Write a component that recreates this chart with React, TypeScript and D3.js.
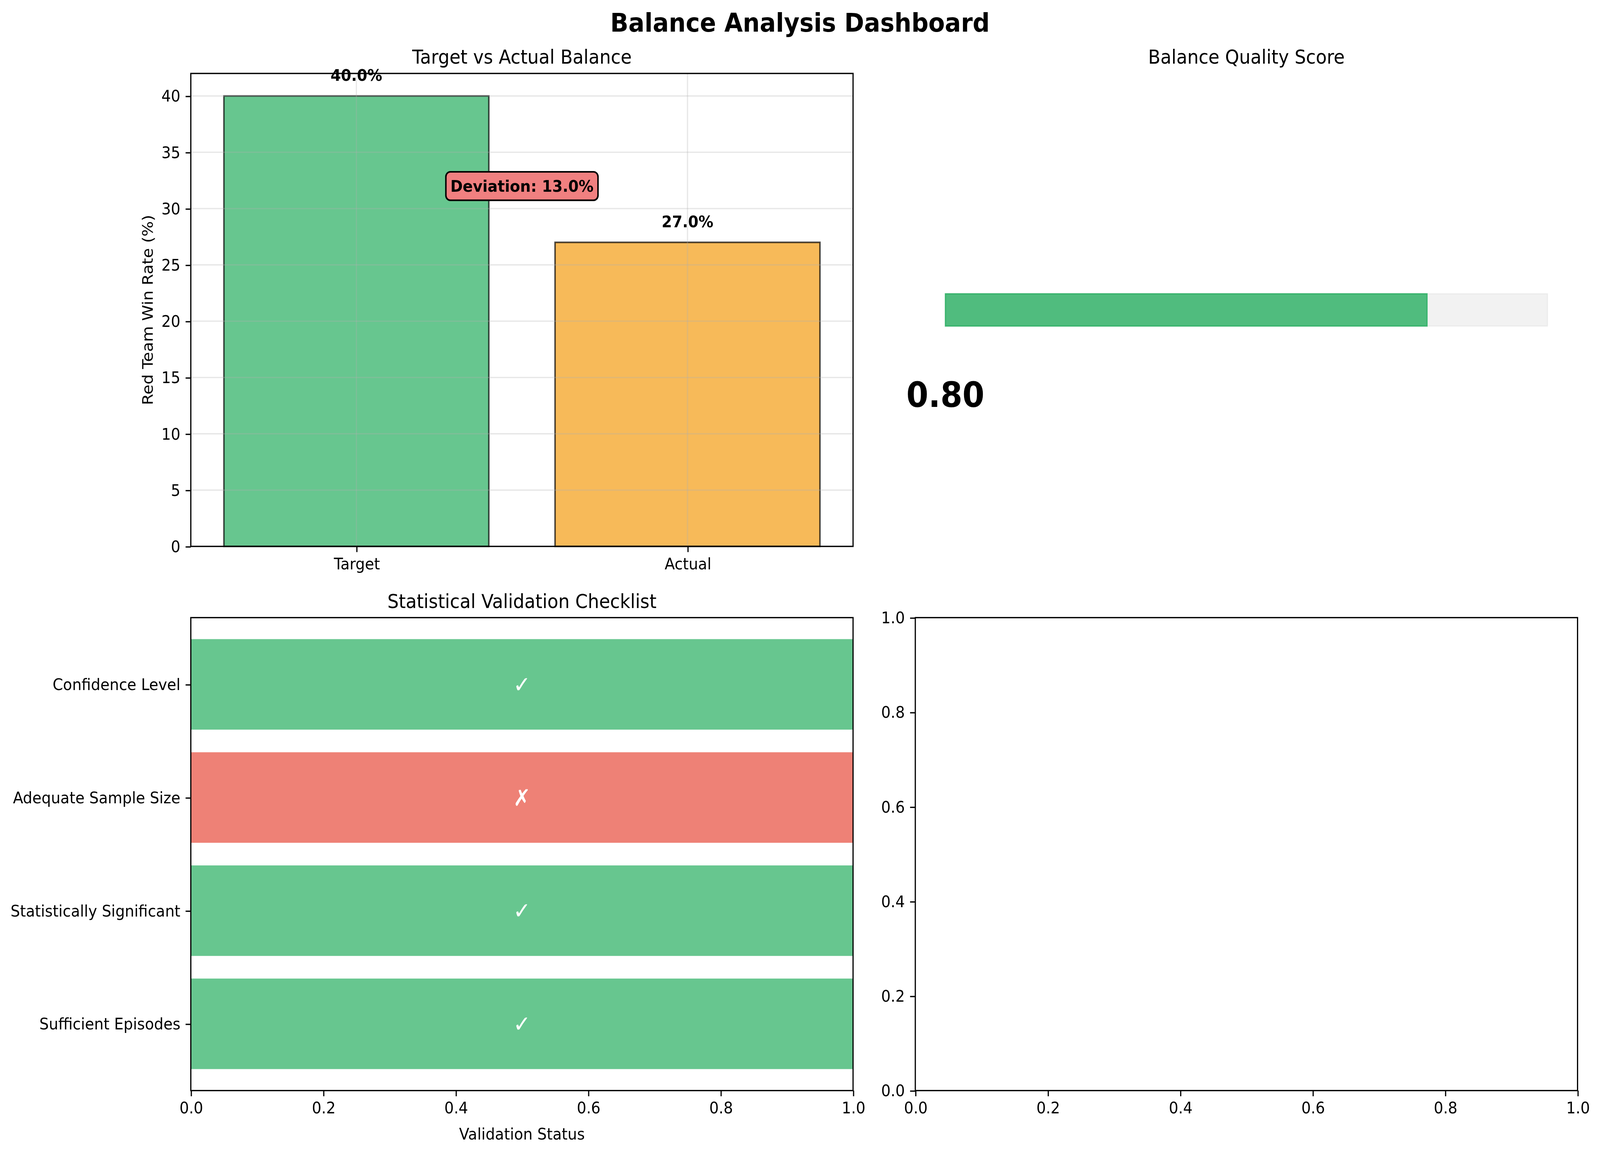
import React, { useRef, useEffect } from "react";
import * as d3 from "d3";

// chart data
const balanceLabels = ["Target", "Actual"];
const balanceValues = [40.0, 27.0];
const balanceColors = ["#27ae60", "#f39c12"];
const deviation = 13.0;
const deviationAt = 32;

const qualityScore = 0.8;

const checkNames = [
  "Sufficient Episodes",
  "Statistically Significant",
  "Adequate Sample Size",
  "Confidence Level",
];
const checkPassed = [true, true, false, true];

const balanceTicks = [0, 5, 10, 15, 20, 25, 30, 35, 40];
const unitTicks = [0, 0.2, 0.4, 0.6, 0.8, 1.0];

// layout (drawn in a 1568 x 1037 viewBox, stretched over the page)
const W = 1568;
const H = 1037;
const FONT = "'DejaVu Sans', sans-serif";
const PT = 1.46;
const FS = 10 * PT;
const TITLE_FS = 12 * PT;
const LW = 0.8 * PT;
const TICK = 3.5 * PT;

const boxTL = { x0: 187, x1: 836, y0: 66, y1: 491 };
const boxTR = { x0: 897, x1: 1546, y0: 66, y1: 491 };
const boxBL = { x0: 187, x1: 836, y0: 555, y1: 980 };
const boxBR = { x0: 897, x1: 1546, y0: 555, y1: 980 };

type Box = typeof boxTL;
type G = d3.Selection<SVGGElement, unknown, null, undefined>;

function frame(g: G, b: Box) {
  g.append("rect")
    .attr("x", b.x0)
    .attr("y", b.y0)
    .attr("width", b.x1 - b.x0)
    .attr("height", b.y1 - b.y0)
    .attr("fill", "none")
    .attr("stroke", "#000")
    .attr("stroke-width", LW);
}

function title(g: G, b: Box, text: string) {
  g.append("text")
    .attr("x", (b.x0 + b.x1) / 2)
    .attr("y", b.y0 - 6 * PT)
    .attr("text-anchor", "middle")
    .attr("font-size", TITLE_FS)
    .text(text);
}

function styleAxis(sel: G) {
  sel.attr("font-family", FONT).attr("font-size", FS);
  sel.select(".domain").remove();
  sel.selectAll(".tick line").attr("stroke", "#000").attr("stroke-width", LW);
  sel.selectAll(".tick text").attr("fill", "#000");
}

const App: React.FC = () => {
  const svgRef = useRef<SVGSVGElement>(null);

  useEffect(() => {
    document.body.style.margin = "0";
    document.documentElement.style.overflow = "hidden";
    if (!svgRef.current) return;
    const svg = d3.select(svgRef.current);
    svg.selectAll("*").remove();

    const root = svg
      .append("g")
      .attr("font-family", FONT)
      .attr("fill", "#000") as unknown as G;

    root
      .append("rect")
      .attr("width", W)
      .attr("height", H)
      .attr("fill", "#fff");

    // Suptitle
    root
      .append("text")
      .attr("x", W / 2)
      .attr("y", 28.5)
      .attr("text-anchor", "middle")
      .attr("font-size", 16 * PT)
      .attr("font-weight", "bold")
      .text("Balance Analysis Dashboard");

    // ---- Target vs Actual ----
    {
      const b = boxTL;
      const g = root.append("g") as G;
      const x = d3.scaleLinear().domain([-0.5, 1.5]).range([b.x0, b.x1]);
      const y = d3.scaleLinear().domain([0, 42]).range([b.y1, b.y0]);

      g.selectAll("rect.bar")
        .data(balanceValues)
        .join("rect")
        .attr("class", "bar")
        .attr("x", (_, i) => x(i - 0.4))
        .attr("width", x(0.8) - x(0))
        .attr("y", (d) => y(d))
        .attr("height", (d) => y(0) - y(d))
        .attr("fill", (_, i) => balanceColors[i])
        .attr("fill-opacity", 0.7)
        .attr("stroke", "#000")
        .attr("stroke-opacity", 0.7)
        .attr("stroke-width", PT);

      // grid
      g.selectAll("line.hgrid")
        .data(balanceTicks)
        .join("line")
        .attr("x1", b.x0)
        .attr("x2", b.x1)
        .attr("y1", (d) => y(d))
        .attr("y2", (d) => y(d))
        .attr("stroke", "#b0b0b0")
        .attr("stroke-opacity", 0.3)
        .attr("stroke-width", LW);
      g.selectAll("line.vgrid")
        .data(balanceLabels)
        .join("line")
        .attr("x1", (_, i) => x(i))
        .attr("x2", (_, i) => x(i))
        .attr("y1", b.y0)
        .attr("y2", b.y1)
        .attr("stroke", "#b0b0b0")
        .attr("stroke-opacity", 0.3)
        .attr("stroke-width", LW);

      const xa = g
        .append("g")
        .attr("transform", `translate(0,${b.y1})`)
        .call(
          d3
            .axisBottom(x)
            .tickValues([0, 1])
            .tickFormat((d) => balanceLabels[+d])
            .tickSize(TICK)
            .tickPadding(TICK),
        ) as unknown as G;
      styleAxis(xa);
      const ya = g
        .append("g")
        .attr("transform", `translate(${b.x0},0)`)
        .call(
          d3
            .axisLeft(y)
            .tickValues(balanceTicks)
            .tickFormat(d3.format("d"))
            .tickSize(TICK)
            .tickPadding(TICK),
        ) as unknown as G;
      styleAxis(ya);

      frame(g, b);
      title(g, b, "Target vs Actual Balance");

      g.append("text")
        .attr("transform", `translate(149.5,${(b.y0 + b.y1) / 2}) rotate(-90)`)
        .attr("text-anchor", "middle")
        .attr("font-size", FS)
        .text("Red Team Win Rate (%)");

      g.selectAll("text.val")
        .data(balanceValues)
        .join("text")
        .attr("class", "val")
        .attr("x", (_, i) => x(i))
        .attr("y", (d) => y(d + 1) - 0.236 * FS)
        .attr("text-anchor", "middle")
        .attr("font-size", FS)
        .attr("font-weight", "bold")
        .text((d) => `${d.toFixed(1)}%`);

      // deviation annotation
      const ann = g.append("g");
      const rect = ann.append("rect");
      const t = ann
        .append("text")
        .attr("x", x(0.5))
        .attr("y", y(deviationAt))
        .attr("dominant-baseline", "central")
        .attr("text-anchor", "middle")
        .attr("font-size", FS)
        .attr("font-weight", "bold")
        .text(`Deviation: ${deviation.toFixed(1)}%`);
      const bb = (t.node() as SVGTextElement).getBBox();
      const pad = 0.3 * FS;
      rect
        .attr("x", bb.x - pad)
        .attr("y", bb.y - pad)
        .attr("width", bb.width + 2 * pad)
        .attr("height", bb.height + 2 * pad)
        .attr("rx", pad)
        .attr("ry", pad)
        .attr("fill", "#f08080")
        .attr("stroke", "#000")
        .attr("stroke-width", PT);
    }

    // ---- Balance quality score ----
    {
      const b = boxTR;
      const g = root.append("g") as G;
      const x = d3.scaleLinear().domain([-0.05, 1.05]).range([b.x0, b.x1]);
      const y = d3.scaleLinear().domain([-1, 1]).range([b.y1, b.y0]);
      const half = 0.068;

      g.append("rect")
        .attr("x", x(0))
        .attr("width", x(1) - x(0))
        .attr("y", y(half))
        .attr("height", y(-half) - y(half))
        .attr("fill", "#d3d3d3")
        .attr("fill-opacity", 0.3)
        .attr("stroke", "#d3d3d3")
        .attr("stroke-opacity", 0.3)
        .attr("stroke-width", LW);
      g.append("rect")
        .attr("x", x(0))
        .attr("width", x(qualityScore) - x(0))
        .attr("y", y(half))
        .attr("height", y(-half) - y(half))
        .attr("fill", "#27ae60")
        .attr("fill-opacity", 0.8)
        .attr("stroke", "#27ae60")
        .attr("stroke-opacity", 0.8)
        .attr("stroke-width", LW);

      g.append("text")
        .attr("x", x(0))
        .attr("y", y(-0.36))
        .attr("dominant-baseline", "central")
        .attr("text-anchor", "middle")
        .attr("font-size", 31)
        .attr("font-weight", "bold")
        .text(d3.format(".2f")(qualityScore));

      title(g, b, "Balance Quality Score");
    }

    // ---- Validation checklist ----
    {
      const b = boxBL;
      const g = root.append("g") as G;
      const x = d3.scaleLinear().domain([0, 1]).range([b.x0, b.x1]);
      const y = d3.scaleLinear().domain([-0.59, 3.59]).range([b.y1, b.y0]);

      g.selectAll("rect.chk")
        .data(checkPassed)
        .join("rect")
        .attr("class", "chk")
        .attr("x", x(0))
        .attr("width", x(1) - x(0))
        .attr("y", (_, i) => y(i + 0.4))
        .attr("height", y(0) - y(0.8))
        .attr("fill", (d) => (d ? "#27ae60" : "#e74c3c"))
        .attr("fill-opacity", 0.7);

      g.selectAll("text.mark")
        .data(checkPassed)
        .join("text")
        .attr("class", "mark")
        .attr("x", x(0.5))
        .attr("y", (_, i) => y(i))
        .attr("dominant-baseline", "central")
        .attr("text-anchor", "middle")
        .attr("font-size", 14 * PT)
        .attr("font-weight", "bold")
        .attr("fill", "#fff")
        .text((d) => (d ? "\u2713" : "\u2717"));

      const xa = g
        .append("g")
        .attr("transform", `translate(0,${b.y1})`)
        .call(
          d3
            .axisBottom(x)
            .tickValues(unitTicks)
            .tickFormat(d3.format(".1f"))
            .tickSize(TICK)
            .tickPadding(TICK),
        ) as unknown as G;
      styleAxis(xa);
      const ya = g
        .append("g")
        .attr("transform", `translate(${b.x0},0)`)
        .call(
          d3
            .axisLeft(y)
            .tickValues(checkNames.map((_, i) => i))
            .tickFormat((d) => checkNames[+d])
            .tickSize(TICK)
            .tickPadding(TICK),
        ) as unknown as G;
      styleAxis(ya);

      frame(g, b);
      title(g, b, "Statistical Validation Checklist");

      g.append("text")
        .attr("x", (b.x0 + b.x1) / 2)
        .attr("y", 1024)
        .attr("text-anchor", "middle")
        .attr("font-size", FS)
        .text("Validation Status");
    }

    // ---- Empty axes ----
    {
      const b = boxBR;
      const g = root.append("g") as G;
      const x = d3.scaleLinear().domain([0, 1]).range([b.x0, b.x1]);
      const y = d3.scaleLinear().domain([0, 1]).range([b.y1, b.y0]);
      const xa = g
        .append("g")
        .attr("transform", `translate(0,${b.y1})`)
        .call(
          d3
            .axisBottom(x)
            .tickValues(unitTicks)
            .tickFormat(d3.format(".1f"))
            .tickSize(TICK)
            .tickPadding(TICK),
        ) as unknown as G;
      styleAxis(xa);
      const ya = g
        .append("g")
        .attr("transform", `translate(${b.x0},0)`)
        .call(
          d3
            .axisLeft(y)
            .tickValues(unitTicks)
            .tickFormat(d3.format(".1f"))
            .tickSize(TICK)
            .tickPadding(TICK),
        ) as unknown as G;
      styleAxis(ya);
      frame(g, b);
    }
  }, []);

  return (
    <svg
      ref={svgRef}
      viewBox={`0 0 ${W} ${H}`}
      preserveAspectRatio="none"
      style={{
        display: "block",
        position: "fixed",
        left: 0,
        top: 0,
        width: "100vw",
        height: "100vh",
      }}
    />
  );
};

export default App;
